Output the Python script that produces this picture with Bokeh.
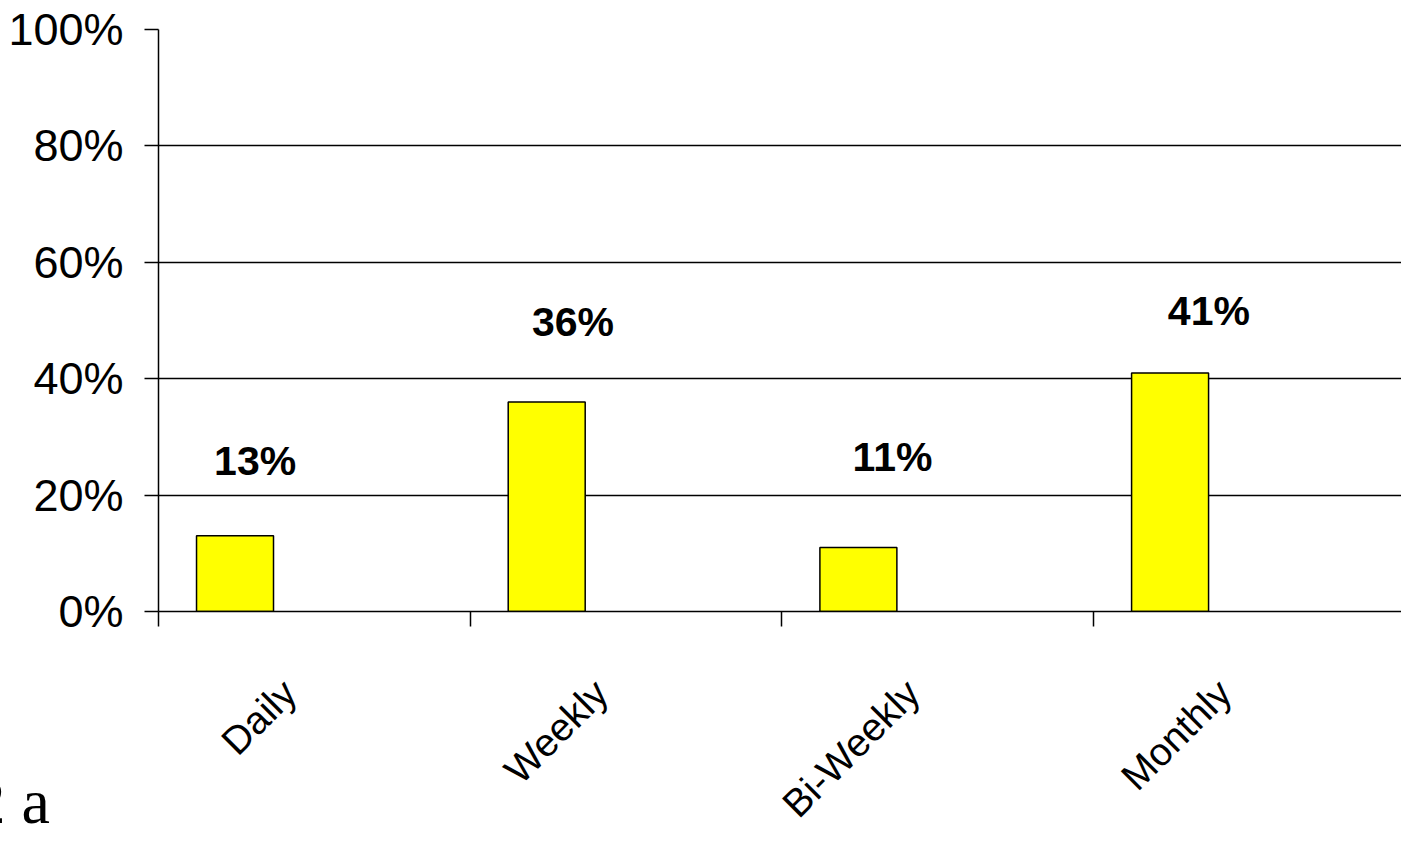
import numpy as np
from bokeh.plotting import figure
from bokeh.models import FixedTicker, PrintfTickFormatter, Range1d, Title
from bokeh.core.properties import value
from bokeh.embed import file_html
from bokeh.resources import INLINE

# ---- data ----
categories = ["Daily", "Weekly", "Bi-Weekly", "Monthly"]
percent = [13, 36, 11, 41]
y_ticks = [0, 20, 40, 60, 80, 100]

# annotation anchors for the data labels (data units)
label_x = [0.31, 1.33, 2.355, 3.37]
label_y = [25.8, 49.7, 26.5, 51.7]

SANS = "Liberation Sans"

idx = np.arange(len(categories))
bar_x = idx + 0.2455
label_tick_pos = [round(i + 0.42, 3) for i in range(len(categories))]

p = figure(width=1401, height=843, output_backend="svg", toolbar_location=None,
           x_range=Range1d(0, 3.988), y_range=Range1d(0, 100),
           min_border_left=158, min_border_right=0, min_border_top=29,
           min_border_bottom=232)
p.outline_line_color = None
p.background_fill_color = "white"
p.border_fill_color = "white"

# grid
p.xgrid.visible = False
p.ygrid.ticker = FixedTicker(ticks=y_ticks)
p.ygrid.grid_line_color = "black"
p.ygrid.grid_line_width = 1.5

# bars
p.vbar(x=bar_x, top=percent, width=0.247, bottom=0,
       fill_color="#FFFF00", line_color="black", line_width=1.5)

# data labels
p.text(x=label_x, y=label_y, text=[f"{v}%" for v in percent],
       text_font=value(SANS), text_font_style="bold", text_font_size="41px",
       text_align="center", text_baseline="middle", text_color="black")

# y axis
ya = p.yaxis[0]
ya.ticker = FixedTicker(ticks=y_ticks)
ya.formatter = PrintfTickFormatter(format="%d%%")
ya.axis_line_color = "black"
ya.axis_line_width = 1.5
ya.major_tick_line_color = "black"
ya.major_tick_line_width = 1.5
ya.major_tick_out = 14
ya.major_tick_in = 0
ya.minor_tick_line_color = None
ya.major_label_text_font = SANS
ya.major_label_text_font_size = "45px"
ya.major_label_text_color = "black"
ya.major_label_standoff = 21

# x axis: boundary ticks as minor ticks, category labels at centres
xa = p.xaxis[0]
xa.ticker = FixedTicker(ticks=label_tick_pos, minor_ticks=[0, 1, 2, 3])
xa.major_label_overrides = {t: c for t, c in zip(label_tick_pos, categories)}
xa.axis_line_color = "black"
xa.axis_line_width = 1.5
xa.major_tick_line_color = None
xa.major_tick_out = 0
xa.major_tick_in = 0
xa.minor_tick_line_color = "black"
xa.minor_tick_line_width = 1.5
xa.minor_tick_out = 15
xa.minor_tick_in = 0
xa.major_label_orientation = np.pi / 4
xa.major_label_text_font = SANS
xa.major_label_text_font_size = "39px"
xa.major_label_text_color = "black"
xa.major_label_standoff = 60

# partially clipped caption at bottom-left
cap = Title(text="2 a", align="left", offset=-185, standoff=-156,
            vertical_align="top",
            text_font="Liberation Serif", text_font_size="64px",
            text_font_style="normal", text_color="black")
p.add_layout(cap, "below")

open("out.html", "w").write(file_html(p, INLINE))
